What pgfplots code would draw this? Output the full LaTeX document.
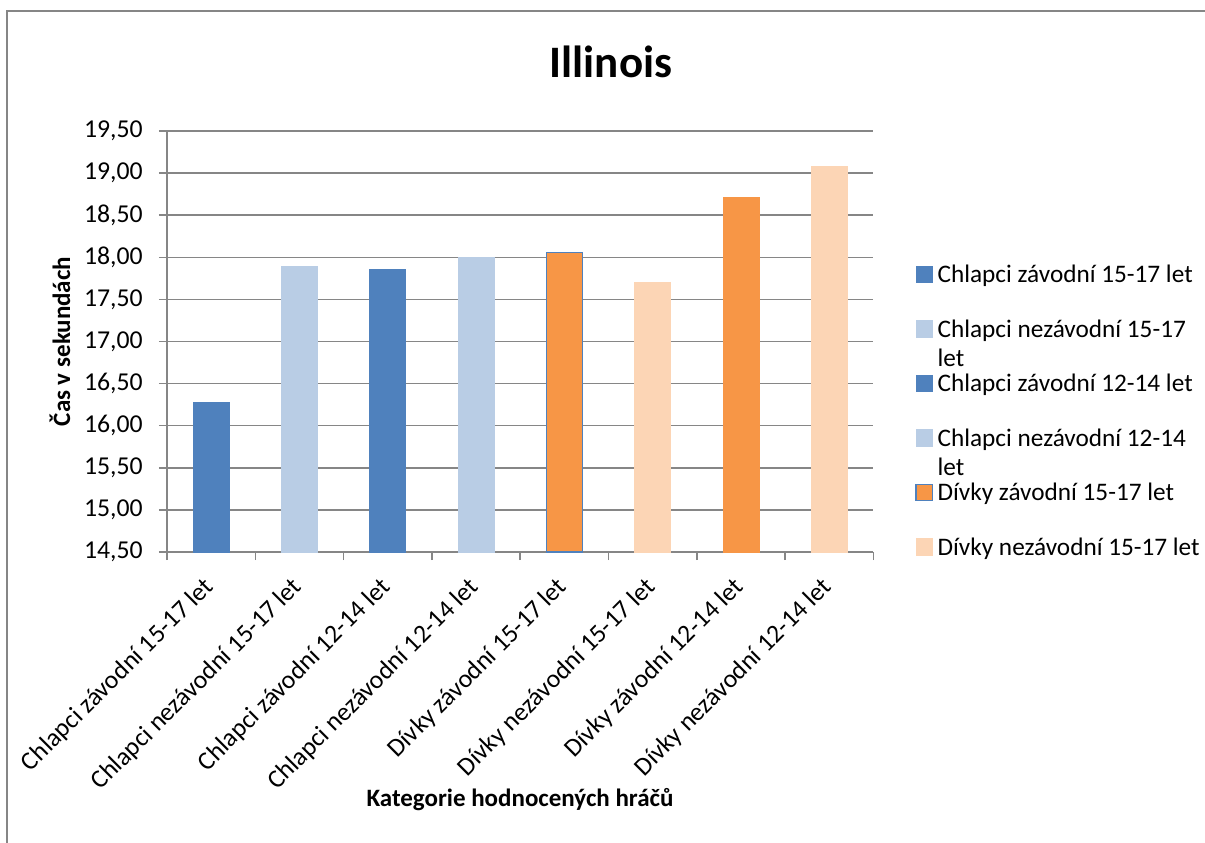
\documentclass[border=0pt]{standalone}
\usepackage{fontspec}
\setmainfont{Carlito}
\usepackage{pgfplots}
\pgfplotsset{compat=1.18}
\definecolor{dblue}{HTML}{4F81BD}
\definecolor{lblue}{HTML}{B9CDE5}
\definecolor{orng}{HTML}{F79646}
\definecolor{peach}{HTML}{FCD5B5}
\definecolor{gridc}{HTML}{868686}
\newcommand\ls{\rule[-2.5pt]{0pt}{10.5pt}}
\begin{document}
\begin{tikzpicture}
\path[use as bounding box] (0,0) rectangle (482pt,-337.2pt);
\draw[gridc, line width=0.8pt] (2.8pt,-337.2pt) -- (2.8pt,-4.4pt) -- (482pt,-4.4pt);
\begin{axis}[
  at={(66.8pt,-220.8pt)}, anchor=south west,
  scale only axis, width=282.6pt, height=168.4pt,
  ybar, bar width=14.4pt,
  xmin=-0.5, xmax=7.5, ymin=14.5, ymax=19.5,
  ytick={14.5,15,...,19.5},
  xtick={0,...,7},
  xticklabels={Chlapci závodní 15-17 let, Chlapci nezávodní 15-17 let, Chlapci závodní 12-14 let, Chlapci nezávodní 12-14 let, Dívky závodní 15-17 let, Dívky nezávodní 15-17 let, Dívky závodní 12-14 let, Dívky nezávodní 12-14 let},
  minor xtick={-0.5,0.5,...,7.5},
  axis x line*=bottom, axis y line*=left,
  axis line style={-, draw=gridc, line width=0.6pt},
  ymajorgrids, major grid style={draw=gridc, line width=0.6pt},
  tick align=outside, major tick length=3.2pt, minor tick length=3.2pt,
  major x tick style={draw=none},
  minor x tick style={draw=gridc, line width=0.6pt},
  ytick style={draw=gridc, line width=0.6pt},
  tick label style={font=\fontsize{10.3}{12}\selectfont},
  /pgf/number format/assume math mode=true,
  yticklabel style={xshift=-3pt, /pgf/number format/.cd, fixed, fixed zerofill, precision=2, use comma, /tikz/.cd},
  xticklabel style={yshift=-6.8pt, xshift=2pt, rotate=45, anchor=east},
  legend image code/.code={\draw[#1] (0pt,-3.3pt) rectangle (6.6pt,3.3pt);},
  legend style={font=\fontsize{10.1}{12}\selectfont, draw=none, fill=none,
    at={(1.0586,0.6888)}, anchor=north west, inner sep=0pt,
    row sep=12.3pt, cells={anchor=west}, nodes={inner xsep=1.8pt, inner ysep=0pt}},
]
\addplot[fill=dblue, draw=dblue, bar shift=0pt] coordinates {(0,16.28)};
\addlegendentry{\ls Chlapci závodní 15-17 let}
\addplot[fill=lblue, draw=lblue, bar shift=0pt] coordinates {(1,17.89)};
\addlegendentry{\ls\smash{\rlap{\raisebox{-11.8pt}{let}}}Chlapci nezávodní 15-17}
\addplot[fill=dblue, draw=dblue, bar shift=0pt] coordinates {(2,17.85)};
\addlegendentry{\ls Chlapci závodní 12-14 let}
\addplot[fill=lblue, draw=lblue, bar shift=0pt] coordinates {(3,18.00)};
\addlegendentry{\ls\smash{\rlap{\raisebox{-11.8pt}{let}}}Chlapci nezávodní 12-14}
\addplot[fill=orng, draw=dblue, line width=0.5pt, bar shift=0pt] coordinates {(4,18.06)};
\addlegendentry{\ls Dívky závodní 15-17 let}
\addplot[fill=peach, draw=peach, bar shift=0pt] coordinates {(5,17.70)};
\addlegendentry{\ls Dívky nezávodní 15-17 let}
\addplot[fill=orng, draw=orng, bar shift=0pt, forget plot] coordinates {(6,18.71)};
\addplot[fill=peach, draw=peach, bar shift=0pt, forget plot] coordinates {(7,19.08)};
\end{axis}
\node[anchor=base, font=\fontsize{18}{21.6}\selectfont\bfseries] at (244.4pt,-30.8pt) {Illinois};
\node[anchor=base, rotate=90, font=\fontsize{10}{12}\selectfont\bfseries] at (28pt,-136.6pt) {Čas v sekundách};
\node[anchor=base, font=\fontsize{10}{12}\selectfont\bfseries] at (208pt,-322.4pt) {Kategorie hodnocených hráčů};
\end{tikzpicture}
\end{document}
